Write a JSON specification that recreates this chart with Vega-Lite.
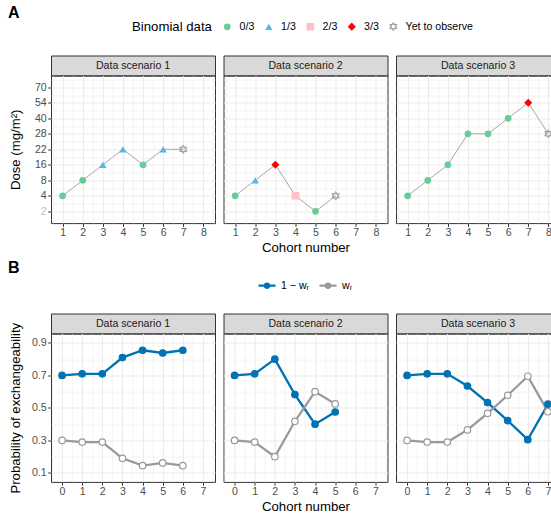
{
  "$schema": "https://vega.github.io/schema/vega-lite/v6.json",
  "background": "white",
  "padding": {"left": 7, "top": 5, "right": 0, "bottom": 0},
  "config": {
    "font": "Liberation Sans",
    "axis": {
      "domain": false,
      "tickColor": "#333333", "tickSize": 3.3, "tickWidth": 1,
      "labelColor": "#4D4D4D", "labelFontSize": 10.6, "labelPadding": 1.5,
      "gridColor": "#EBEBEB",
      "titleFontSize": 13.2, "titleFontWeight": "normal", "titleColor": "#000000",
      "labelOverlap": false, "labelFlush": false
    },
    "legend": {"labelFontSize": 10.6, "labelColor": "#000000", "titleFontSize": 13.2, "titleFontWeight": "normal", "titleColor": "#000000", "padding": 0},
    "title": {"fontSize": 16, "fontWeight": "bold", "color": "#000000", "anchor": "start"}
  },
  "datasets": {
    "doses": [
      {"scenario": 1, "cohort": 1, "level": 2, "dose": 4, "outcome": "0/3"},
      {"scenario": 1, "cohort": 2, "level": 3, "dose": 8, "outcome": "0/3"},
      {"scenario": 1, "cohort": 3, "level": 4, "dose": 16, "outcome": "1/3"},
      {"scenario": 1, "cohort": 4, "level": 5, "dose": 22, "outcome": "1/3"},
      {"scenario": 1, "cohort": 5, "level": 4, "dose": 16, "outcome": "0/3"},
      {"scenario": 1, "cohort": 6, "level": 5, "dose": 22, "outcome": "1/3"},
      {"scenario": 1, "cohort": 7, "level": 5, "dose": 22, "outcome": "Yet to observe"},
      {"scenario": 2, "cohort": 1, "level": 2, "dose": 4, "outcome": "0/3"},
      {"scenario": 2, "cohort": 2, "level": 3, "dose": 8, "outcome": "1/3"},
      {"scenario": 2, "cohort": 3, "level": 4, "dose": 16, "outcome": "3/3"},
      {"scenario": 2, "cohort": 4, "level": 2, "dose": 4, "outcome": "2/3"},
      {"scenario": 2, "cohort": 5, "level": 1, "dose": 2, "outcome": "0/3"},
      {"scenario": 2, "cohort": 6, "level": 2, "dose": 4, "outcome": "Yet to observe"},
      {"scenario": 3, "cohort": 1, "level": 2, "dose": 4, "outcome": "0/3"},
      {"scenario": 3, "cohort": 2, "level": 3, "dose": 8, "outcome": "0/3"},
      {"scenario": 3, "cohort": 3, "level": 4, "dose": 16, "outcome": "0/3"},
      {"scenario": 3, "cohort": 4, "level": 6, "dose": 28, "outcome": "0/3"},
      {"scenario": 3, "cohort": 5, "level": 6, "dose": 28, "outcome": "0/3"},
      {"scenario": 3, "cohort": 6, "level": 7, "dose": 40, "outcome": "0/3"},
      {"scenario": 3, "cohort": 7, "level": 8, "dose": 54, "outcome": "3/3"},
      {"scenario": 3, "cohort": 8, "level": 6, "dose": 28, "outcome": "Yet to observe"}
    ],
    "exch": [
      {"scenario": 1, "cohort": 0, "series": "1-wR", "prob": 0.70},
      {"scenario": 1, "cohort": 1, "series": "1-wR", "prob": 0.71},
      {"scenario": 1, "cohort": 2, "series": "1-wR", "prob": 0.71},
      {"scenario": 1, "cohort": 3, "series": "1-wR", "prob": 0.81},
      {"scenario": 1, "cohort": 4, "series": "1-wR", "prob": 0.855},
      {"scenario": 1, "cohort": 5, "series": "1-wR", "prob": 0.838},
      {"scenario": 1, "cohort": 6, "series": "1-wR", "prob": 0.855},
      {"scenario": 1, "cohort": 0, "series": "wR", "prob": 0.30},
      {"scenario": 1, "cohort": 1, "series": "wR", "prob": 0.29},
      {"scenario": 1, "cohort": 2, "series": "wR", "prob": 0.29},
      {"scenario": 1, "cohort": 3, "series": "wR", "prob": 0.19},
      {"scenario": 1, "cohort": 4, "series": "wR", "prob": 0.145},
      {"scenario": 1, "cohort": 5, "series": "wR", "prob": 0.162},
      {"scenario": 1, "cohort": 6, "series": "wR", "prob": 0.145},
      {"scenario": 2, "cohort": 0, "series": "1-wR", "prob": 0.70},
      {"scenario": 2, "cohort": 1, "series": "1-wR", "prob": 0.71},
      {"scenario": 2, "cohort": 2, "series": "1-wR", "prob": 0.80},
      {"scenario": 2, "cohort": 3, "series": "1-wR", "prob": 0.582},
      {"scenario": 2, "cohort": 4, "series": "1-wR", "prob": 0.40},
      {"scenario": 2, "cohort": 5, "series": "1-wR", "prob": 0.475},
      {"scenario": 2, "cohort": 0, "series": "wR", "prob": 0.30},
      {"scenario": 2, "cohort": 1, "series": "wR", "prob": 0.29},
      {"scenario": 2, "cohort": 2, "series": "wR", "prob": 0.20},
      {"scenario": 2, "cohort": 3, "series": "wR", "prob": 0.418},
      {"scenario": 2, "cohort": 4, "series": "wR", "prob": 0.60},
      {"scenario": 2, "cohort": 5, "series": "wR", "prob": 0.525},
      {"scenario": 3, "cohort": 0, "series": "1-wR", "prob": 0.70},
      {"scenario": 3, "cohort": 1, "series": "1-wR", "prob": 0.71},
      {"scenario": 3, "cohort": 2, "series": "1-wR", "prob": 0.71},
      {"scenario": 3, "cohort": 3, "series": "1-wR", "prob": 0.635},
      {"scenario": 3, "cohort": 4, "series": "1-wR", "prob": 0.533},
      {"scenario": 3, "cohort": 5, "series": "1-wR", "prob": 0.422},
      {"scenario": 3, "cohort": 6, "series": "1-wR", "prob": 0.305},
      {"scenario": 3, "cohort": 7, "series": "1-wR", "prob": 0.523},
      {"scenario": 3, "cohort": 0, "series": "wR", "prob": 0.30},
      {"scenario": 3, "cohort": 1, "series": "wR", "prob": 0.29},
      {"scenario": 3, "cohort": 2, "series": "wR", "prob": 0.29},
      {"scenario": 3, "cohort": 3, "series": "wR", "prob": 0.365},
      {"scenario": 3, "cohort": 4, "series": "wR", "prob": 0.467},
      {"scenario": 3, "cohort": 5, "series": "wR", "prob": 0.578},
      {"scenario": 3, "cohort": 6, "series": "wR", "prob": 0.695},
      {"scenario": 3, "cohort": 7, "series": "wR", "prob": 0.477}
    ]
  },
  "resolve": {"scale": {"fill": "independent", "stroke": "independent", "shape": "independent", "size": "independent"}},
  "spacing": 4.5,
  "vconcat": [
    {
      "title": {"text": "A", "offset": 0},
      "resolve": {"scale": {"fill": "independent", "stroke": "independent", "shape": "independent", "size": "independent"}},
      "spacing": 19.5,
      "vconcat": [
        {
          "width": 1, "height": 14,
          "view": {"stroke": null},
          "data": {"name": "doses"},
          "transform": [{"filter": "false"}],
          "mark": {"type": "point", "opacity": 1, "strokeWidth": 1},
          "encoding": {
            "fill": {"field": "outcome", "type": "nominal", "scale": {"domain": ["0/3", "1/3", "2/3", "3/3", "Yet to observe"], "range": ["#66CC99", "#56B4E9", "#FFC0CB", "#FF0000", "transparent"]},
              "legend": {"orient": "none", "legendX": 81, "legendY": 0, "direction": "horizontal", "title": "Binomial data", "titleOrient": "left", "titlePadding": 10, "labelOffset": 7, "columnPadding": 7.5, "symbolStrokeWidth": 1}},
            "stroke": {"field": "outcome", "type": "nominal", "scale": {"domain": ["0/3", "1/3", "2/3", "3/3", "Yet to observe"], "range": ["transparent", "transparent", "transparent", "transparent", "#A0A0A0"]},
              "legend": {"orient": "none", "legendX": 81, "legendY": 0, "direction": "horizontal", "title": "Binomial data", "titleOrient": "left", "titlePadding": 10, "labelOffset": 7, "columnPadding": 7.5, "symbolStrokeWidth": 1}},
            "shape": {"field": "outcome", "type": "nominal", "scale": {"domain": ["0/3", "1/3", "2/3", "3/3", "Yet to observe"], "range": ["circle", "triangle-up", "square", "diamond", "M0,-1L0.866,0.5L-0.866,0.5ZM0,1L0.866,-0.5L-0.866,-0.5Z"]},
              "legend": {"orient": "none", "legendX": 81, "legendY": 0, "direction": "horizontal", "title": "Binomial data", "titleOrient": "left", "titlePadding": 10, "labelOffset": 7, "columnPadding": 7.5, "symbolStrokeWidth": 1}},
            "size": {"field": "outcome", "type": "ordinal", "scale": {"domain": ["0/3", "1/3", "2/3", "3/3", "Yet to observe"], "range": [45, 72, 64, 32, 110]},
              "legend": {"orient": "none", "legendX": 81, "legendY": 0, "direction": "horizontal", "title": "Binomial data", "titleOrient": "left", "titlePadding": 10, "labelOffset": 7, "columnPadding": 7.5, "symbolStrokeWidth": 1}}
          }
        },
        {
          "spacing": 6.5,
          "hconcat": [
            {
              "spacing": 0,
              "bounds": "flush",
              "vconcat": [
                {"width": 164, "height": 20, "data": {"values": [{"label": "Data scenario 1"}]}, "mark": {"type": "text", "fontSize": 10.6, "color": "#1A1A1A"}, "encoding": {"text": {"field": "label"}}, "view": {"fill": "#D9D9D9", "stroke": "#333333", "strokeWidth": 1}},
                {
                  "width": 164, "height": 147.6,
                  "data": {"name": "doses"},
                  "transform": [{"filter": "datum.scenario === 1"}],
                  "view": {"stroke": "#333333", "strokeWidth": 1},
                  "encoding": {
                    "x": {"field": "cohort", "type": "quantitative", "scale": {"domain": [0.42, 8.58], "nice": false, "zero": false},
                      "axis": {"values": [0.5, 1, 1.5, 2, 2.5, 3, 3.5, 4, 4.5, 5, 5.5, 6, 6.5, 7, 7.5, 8, 8.5], "labelExpr": "datum.value % 1 === 0 ? format(datum.value, 'd') : ''", "tickOpacity": {"condition": {"test": "datum.value % 1 !== 0", "value": 0}, "value": 1}, "gridWidth": {"condition": {"test": "datum.value % 1 !== 0", "value": 0.55}, "value": 1.1}, "title": null}},
                    "y": {"field": "level", "type": "quantitative", "scale": {"domain": [0.24, 9.76], "nice": false, "zero": false},
                      "axis": {"values": [0.5, 1, 1.5, 2, 2.5, 3, 3.5, 4, 4.5, 5, 5.5, 6, 6.5, 7, 7.5, 8, 8.5, 9, 9.5], "labelExpr": "datum.value % 1 === 0 ? ['2','4','8','16','22','28','40','54','70'][datum.value - 1] : ''", "labelColor": {"condition": {"test": "datum.value === 1", "value": "#BEBEBE"}, "value": "#4D4D4D"}, "tickOpacity": {"condition": {"test": "datum.value % 1 !== 0", "value": 0}, "value": 1}, "gridWidth": {"condition": {"test": "datum.value % 1 !== 0", "value": 0.55}, "value": 1.1}, "title": "Dose (mg/m²)", "titlePadding": 12}}
                  },
                  "layer": [
                    {"mark": {"type": "line", "color": "#A8A8A8", "strokeWidth": 1}, "encoding": {}},
                    {"mark": {"type": "point", "opacity": 1, "strokeWidth": 1},
                      "encoding": {
                        "fill": {"field": "outcome", "type": "nominal", "scale": {"domain": ["0/3", "1/3", "2/3", "3/3", "Yet to observe"], "range": ["#66CC99", "#56B4E9", "#FFC0CB", "#FF0000", "transparent"]}, "legend": null},
                        "stroke": {"field": "outcome", "type": "nominal", "scale": {"domain": ["0/3", "1/3", "2/3", "3/3", "Yet to observe"], "range": ["transparent", "transparent", "transparent", "transparent", "#A0A0A0"]}, "legend": null},
                        "shape": {"field": "outcome", "type": "nominal", "scale": {"domain": ["0/3", "1/3", "2/3", "3/3", "Yet to observe"], "range": ["circle", "triangle-up", "square", "diamond", "M0,-1L0.866,0.5L-0.866,0.5ZM0,1L0.866,-0.5L-0.866,-0.5Z"]}, "legend": null},
                        "size": {"field": "outcome", "type": "ordinal", "scale": {"domain": ["0/3", "1/3", "2/3", "3/3", "Yet to observe"], "range": [45, 72, 64, 32, 110]}, "legend": null}
                      }}
                  ]
                }
              ]
            },
            {
              "spacing": 0,
              "bounds": "flush",
              "vconcat": [
                {"width": 164, "height": 20, "data": {"values": [{"label": "Data scenario 2"}]}, "mark": {"type": "text", "fontSize": 10.6, "color": "#1A1A1A"}, "encoding": {"text": {"field": "label"}}, "view": {"fill": "#D9D9D9", "stroke": "#333333", "strokeWidth": 1}},
                {
                  "width": 164, "height": 147.6,
                  "data": {"name": "doses"},
                  "transform": [{"filter": "datum.scenario === 2"}],
                  "view": {"stroke": "#333333", "strokeWidth": 1},
                  "encoding": {
                    "x": {"field": "cohort", "type": "quantitative", "scale": {"domain": [0.42, 8.58], "nice": false, "zero": false},
                      "axis": {"values": [0.5, 1, 1.5, 2, 2.5, 3, 3.5, 4, 4.5, 5, 5.5, 6, 6.5, 7, 7.5, 8, 8.5], "labelExpr": "datum.value % 1 === 0 ? format(datum.value, 'd') : ''", "tickOpacity": {"condition": {"test": "datum.value % 1 !== 0", "value": 0}, "value": 1}, "gridWidth": {"condition": {"test": "datum.value % 1 !== 0", "value": 0.55}, "value": 1.1}, "title": "Cohort number", "titlePadding": 3}},
                    "y": {"field": "level", "type": "quantitative", "scale": {"domain": [0.24, 9.76], "nice": false, "zero": false},
                      "axis": {"values": [0.5, 1, 1.5, 2, 2.5, 3, 3.5, 4, 4.5, 5, 5.5, 6, 6.5, 7, 7.5, 8, 8.5, 9, 9.5], "labels": false, "ticks": false, "gridWidth": {"condition": {"test": "datum.value % 1 !== 0", "value": 0.55}, "value": 1.1}, "title": null}}
                  },
                  "layer": [
                    {"mark": {"type": "line", "color": "#A8A8A8", "strokeWidth": 1}, "encoding": {}},
                    {"mark": {"type": "point", "opacity": 1, "strokeWidth": 1},
                      "encoding": {
                        "fill": {"field": "outcome", "type": "nominal", "scale": {"domain": ["0/3", "1/3", "2/3", "3/3", "Yet to observe"], "range": ["#66CC99", "#56B4E9", "#FFC0CB", "#FF0000", "transparent"]}, "legend": null},
                        "stroke": {"field": "outcome", "type": "nominal", "scale": {"domain": ["0/3", "1/3", "2/3", "3/3", "Yet to observe"], "range": ["transparent", "transparent", "transparent", "transparent", "#A0A0A0"]}, "legend": null},
                        "shape": {"field": "outcome", "type": "nominal", "scale": {"domain": ["0/3", "1/3", "2/3", "3/3", "Yet to observe"], "range": ["circle", "triangle-up", "square", "diamond", "M0,-1L0.866,0.5L-0.866,0.5ZM0,1L0.866,-0.5L-0.866,-0.5Z"]}, "legend": null},
                        "size": {"field": "outcome", "type": "ordinal", "scale": {"domain": ["0/3", "1/3", "2/3", "3/3", "Yet to observe"], "range": [45, 72, 64, 32, 110]}, "legend": null}
                      }}
                  ]
                }
              ]
            },
            {
              "spacing": 0,
              "bounds": "flush",
              "vconcat": [
                {"width": 164, "height": 20, "data": {"values": [{"label": "Data scenario 3"}]}, "mark": {"type": "text", "fontSize": 10.6, "color": "#1A1A1A"}, "encoding": {"text": {"field": "label"}}, "view": {"fill": "#D9D9D9", "stroke": "#333333", "strokeWidth": 1}},
                {
                  "width": 164, "height": 147.6,
                  "data": {"name": "doses"},
                  "transform": [{"filter": "datum.scenario === 3"}],
                  "view": {"stroke": "#333333", "strokeWidth": 1},
                  "encoding": {
                    "x": {"field": "cohort", "type": "quantitative", "scale": {"domain": [0.42, 8.58], "nice": false, "zero": false},
                      "axis": {"values": [0.5, 1, 1.5, 2, 2.5, 3, 3.5, 4, 4.5, 5, 5.5, 6, 6.5, 7, 7.5, 8, 8.5], "labelExpr": "datum.value % 1 === 0 ? format(datum.value, 'd') : ''", "tickOpacity": {"condition": {"test": "datum.value % 1 !== 0", "value": 0}, "value": 1}, "gridWidth": {"condition": {"test": "datum.value % 1 !== 0", "value": 0.55}, "value": 1.1}, "title": null}},
                    "y": {"field": "level", "type": "quantitative", "scale": {"domain": [0.24, 9.76], "nice": false, "zero": false},
                      "axis": {"values": [0.5, 1, 1.5, 2, 2.5, 3, 3.5, 4, 4.5, 5, 5.5, 6, 6.5, 7, 7.5, 8, 8.5, 9, 9.5], "labels": false, "ticks": false, "gridWidth": {"condition": {"test": "datum.value % 1 !== 0", "value": 0.55}, "value": 1.1}, "title": null}}
                  },
                  "layer": [
                    {"mark": {"type": "line", "color": "#A8A8A8", "strokeWidth": 1}, "encoding": {}},
                    {"mark": {"type": "point", "opacity": 1, "strokeWidth": 1},
                      "encoding": {
                        "fill": {"field": "outcome", "type": "nominal", "scale": {"domain": ["0/3", "1/3", "2/3", "3/3", "Yet to observe"], "range": ["#66CC99", "#56B4E9", "#FFC0CB", "#FF0000", "transparent"]}, "legend": null},
                        "stroke": {"field": "outcome", "type": "nominal", "scale": {"domain": ["0/3", "1/3", "2/3", "3/3", "Yet to observe"], "range": ["transparent", "transparent", "transparent", "transparent", "#A0A0A0"]}, "legend": null},
                        "shape": {"field": "outcome", "type": "nominal", "scale": {"domain": ["0/3", "1/3", "2/3", "3/3", "Yet to observe"], "range": ["circle", "triangle-up", "square", "diamond", "M0,-1L0.866,0.5L-0.866,0.5ZM0,1L0.866,-0.5L-0.866,-0.5Z"]}, "legend": null},
                        "size": {"field": "outcome", "type": "ordinal", "scale": {"domain": ["0/3", "1/3", "2/3", "3/3", "Yet to observe"], "range": [45, 72, 64, 32, 110]}, "legend": null}
                      }}
                  ]
                }
              ]
            }
          ]
        }
      ]
    },
    {
      "title": {"text": "B", "offset": 0},
      "resolve": {"scale": {"fill": "independent", "stroke": "independent"}},
      "spacing": 20,
      "vconcat": [
        {
          "width": 1, "height": 12,
          "view": {"stroke": null},
          "data": {"name": "exch"},
          "transform": [{"filter": "false"}],
          "mark": {"type": "point", "opacity": 1, "size": 289, "strokeWidth": 2.2},
          "encoding": {
            "fill": {"field": "series", "type": "nominal", "scale": {"domain": ["1-wR", "wR"], "range": ["#0072B2", "#FFFFFF"]},
              "legend": {"orient": "none", "legendX": 206, "legendY": 0, "direction": "horizontal", "title": null, "symbolType": "M-1,0L1,0M-0.26,0A0.26,0.26,0,1,1,0.26,0A0.26,0.26,0,1,1,-0.26,0Z", "symbolSize": 289, "symbolStrokeWidth": 2.2, "labelExpr": "datum.value === 'wR' ? 'wᵣ' : '1 − wᵣ'", "labelOffset": 4, "columnPadding": 5}},
            "stroke": {"field": "series", "type": "nominal", "scale": {"domain": ["1-wR", "wR"], "range": ["#0072B2", "#999999"]},
              "legend": {"orient": "none", "legendX": 206, "legendY": 0, "direction": "horizontal", "title": null, "symbolType": "M-1,0L1,0M-0.26,0A0.26,0.26,0,1,1,0.26,0A0.26,0.26,0,1,1,-0.26,0Z", "symbolSize": 289, "symbolStrokeWidth": 2.2, "labelExpr": "datum.value === 'wR' ? 'wᵣ' : '1 − wᵣ'", "labelOffset": 4, "columnPadding": 5}}
          }
        },
        {
          "spacing": 6.5,
          "hconcat": [
            {
              "spacing": 0,
              "bounds": "flush",
              "vconcat": [
                {"width": 164, "height": 20, "data": {"values": [{"label": "Data scenario 1"}]}, "mark": {"type": "text", "fontSize": 10.6, "color": "#1A1A1A"}, "encoding": {"text": {"field": "label"}}, "view": {"fill": "#D9D9D9", "stroke": "#333333", "strokeWidth": 1}},
                {
                  "width": 164, "height": 148.4,
                  "data": {"name": "exch"},
                  "transform": [{"filter": "datum.scenario === 1"}],
                  "view": {"stroke": "#333333", "strokeWidth": 1},
                  "encoding": {
                    "x": {"field": "cohort", "type": "quantitative", "scale": {"domain": [-0.55, 7.6], "nice": false, "zero": false},
                      "axis": {"values": [-0.5, 0, 0.5, 1, 1.5, 2, 2.5, 3, 3.5, 4, 4.5, 5, 5.5, 6, 6.5, 7, 7.5], "labelExpr": "datum.value % 1 === 0 ? format(datum.value, 'd') : ''", "tickOpacity": {"condition": {"test": "datum.value % 1 !== 0", "value": 0}, "value": 1}, "gridWidth": {"condition": {"test": "datum.value % 1 !== 0", "value": 0.55}, "value": 1.1}, "title": null}},
                    "y": {"field": "prob", "type": "quantitative", "scale": {"domain": [0.045, 0.958], "nice": false, "zero": false},
                      "axis": {"values": [0.1, 0.2, 0.3, 0.4, 0.5, 0.6, 0.7, 0.8, 0.9], "labelExpr": "round(datum.value * 10) % 2 === 1 ? format(datum.value, '.1f') : ''", "tickOpacity": {"condition": {"test": "round(datum.value * 10) % 2 === 0", "value": 0}, "value": 1}, "gridWidth": {"condition": {"test": "round(datum.value * 10) % 2 === 0", "value": 0.55}, "value": 1.1}, "title": "Probability of exchangeability", "titlePadding": 9}},
                    "stroke": {"field": "series", "type": "nominal", "scale": {"domain": ["1-wR", "wR"], "range": ["#0072B2", "#999999"]}, "legend": null}
                  },
                  "layer": [
                    {"mark": {"type": "line", "strokeWidth": 2.3}, "encoding": {}},
                    {"mark": {"type": "point", "opacity": 1, "size": 42, "strokeWidth": 1.2},
                      "encoding": {"fill": {"field": "series", "type": "nominal", "scale": {"domain": ["1-wR", "wR"], "range": ["#0072B2", "#FFFFFF"]}, "legend": null}}}
                  ]
                }
              ]
            },
            {
              "spacing": 0,
              "bounds": "flush",
              "vconcat": [
                {"width": 164, "height": 20, "data": {"values": [{"label": "Data scenario 2"}]}, "mark": {"type": "text", "fontSize": 10.6, "color": "#1A1A1A"}, "encoding": {"text": {"field": "label"}}, "view": {"fill": "#D9D9D9", "stroke": "#333333", "strokeWidth": 1}},
                {
                  "width": 164, "height": 148.4,
                  "data": {"name": "exch"},
                  "transform": [{"filter": "datum.scenario === 2"}],
                  "view": {"stroke": "#333333", "strokeWidth": 1},
                  "encoding": {
                    "x": {"field": "cohort", "type": "quantitative", "scale": {"domain": [-0.55, 7.6], "nice": false, "zero": false},
                      "axis": {"values": [-0.5, 0, 0.5, 1, 1.5, 2, 2.5, 3, 3.5, 4, 4.5, 5, 5.5, 6, 6.5, 7, 7.5], "labelExpr": "datum.value % 1 === 0 ? format(datum.value, 'd') : ''", "tickOpacity": {"condition": {"test": "datum.value % 1 !== 0", "value": 0}, "value": 1}, "gridWidth": {"condition": {"test": "datum.value % 1 !== 0", "value": 0.55}, "value": 1.1}, "title": "Cohort number", "titlePadding": 3}},
                    "y": {"field": "prob", "type": "quantitative", "scale": {"domain": [0.045, 0.958], "nice": false, "zero": false},
                      "axis": {"values": [0.1, 0.2, 0.3, 0.4, 0.5, 0.6, 0.7, 0.8, 0.9], "labels": false, "ticks": false, "gridWidth": {"condition": {"test": "round(datum.value * 10) % 2 === 0", "value": 0.55}, "value": 1.1}, "title": null}},
                    "stroke": {"field": "series", "type": "nominal", "scale": {"domain": ["1-wR", "wR"], "range": ["#0072B2", "#999999"]}, "legend": null}
                  },
                  "layer": [
                    {"mark": {"type": "line", "strokeWidth": 2.3}, "encoding": {}},
                    {"mark": {"type": "point", "opacity": 1, "size": 42, "strokeWidth": 1.2},
                      "encoding": {"fill": {"field": "series", "type": "nominal", "scale": {"domain": ["1-wR", "wR"], "range": ["#0072B2", "#FFFFFF"]}, "legend": null}}}
                  ]
                }
              ]
            },
            {
              "spacing": 0,
              "bounds": "flush",
              "vconcat": [
                {"width": 164, "height": 20, "data": {"values": [{"label": "Data scenario 3"}]}, "mark": {"type": "text", "fontSize": 10.6, "color": "#1A1A1A"}, "encoding": {"text": {"field": "label"}}, "view": {"fill": "#D9D9D9", "stroke": "#333333", "strokeWidth": 1}},
                {
                  "width": 164, "height": 148.4,
                  "data": {"name": "exch"},
                  "transform": [{"filter": "datum.scenario === 3"}],
                  "view": {"stroke": "#333333", "strokeWidth": 1},
                  "encoding": {
                    "x": {"field": "cohort", "type": "quantitative", "scale": {"domain": [-0.55, 7.6], "nice": false, "zero": false},
                      "axis": {"values": [-0.5, 0, 0.5, 1, 1.5, 2, 2.5, 3, 3.5, 4, 4.5, 5, 5.5, 6, 6.5, 7, 7.5], "labelExpr": "datum.value % 1 === 0 ? format(datum.value, 'd') : ''", "tickOpacity": {"condition": {"test": "datum.value % 1 !== 0", "value": 0}, "value": 1}, "gridWidth": {"condition": {"test": "datum.value % 1 !== 0", "value": 0.55}, "value": 1.1}, "title": null}},
                    "y": {"field": "prob", "type": "quantitative", "scale": {"domain": [0.045, 0.958], "nice": false, "zero": false},
                      "axis": {"values": [0.1, 0.2, 0.3, 0.4, 0.5, 0.6, 0.7, 0.8, 0.9], "labels": false, "ticks": false, "gridWidth": {"condition": {"test": "round(datum.value * 10) % 2 === 0", "value": 0.55}, "value": 1.1}, "title": null}},
                    "stroke": {"field": "series", "type": "nominal", "scale": {"domain": ["1-wR", "wR"], "range": ["#0072B2", "#999999"]}, "legend": null}
                  },
                  "layer": [
                    {"mark": {"type": "line", "strokeWidth": 2.3}, "encoding": {}},
                    {"mark": {"type": "point", "opacity": 1, "size": 42, "strokeWidth": 1.2},
                      "encoding": {"fill": {"field": "series", "type": "nominal", "scale": {"domain": ["1-wR", "wR"], "range": ["#0072B2", "#FFFFFF"]}, "legend": null}}}
                  ]
                }
              ]
            }
          ]
        }
      ]
    }
  ]
}
